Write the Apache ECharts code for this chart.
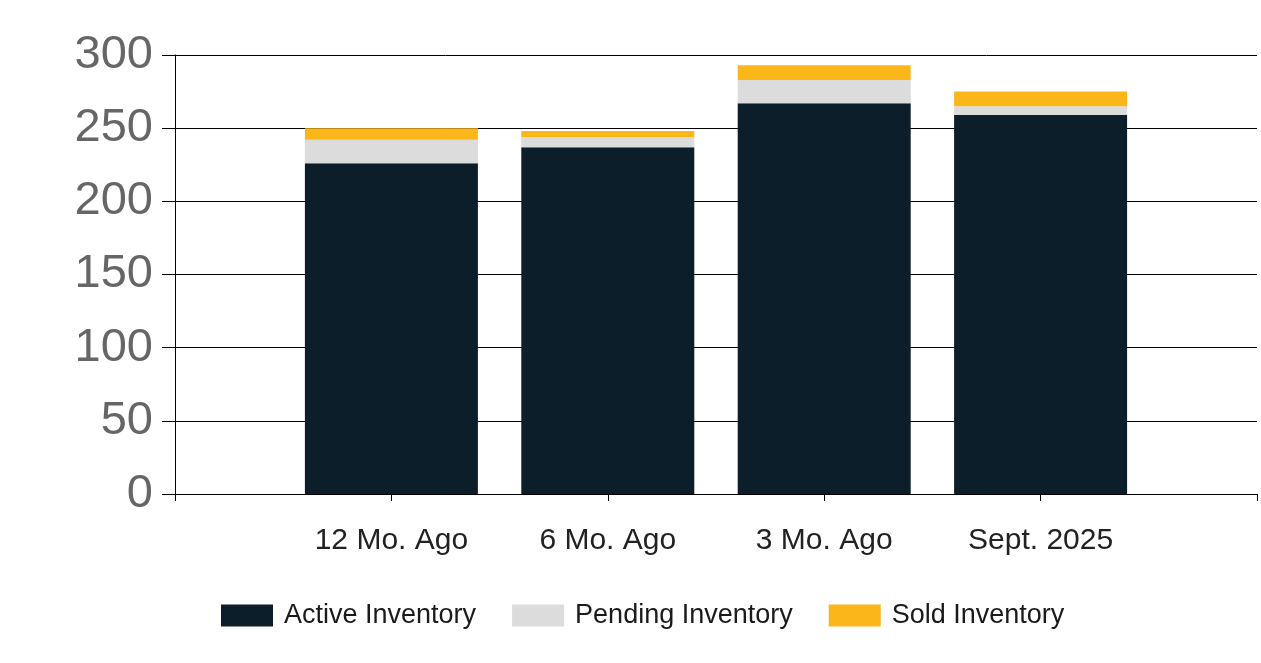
<!DOCTYPE html>
<html>
<head>
<meta charset="utf-8">
<script src="https://cdn.jsdelivr.net/npm/echarts@6/dist/echarts.min.js"></script>
<style>
html,body{margin:0;padding:0;background:#fff;}
#chart{width:1261px;height:663px;}
</style>
</head>
<body>
<div id="chart"></div>
<script>
// Category slots: empty slots at both ends as in the reference axis
const categories = ['', '12 Mo. Ago', '6 Mo. Ago', '3 Mo. Ago', 'Sept. 2025', ''];
const activeValues = [null, 226, 237, 267, 259, null];
const pendingValues = [null, 16, 7, 16, 6, null];
const soldValues = [null, 8, 4, 10, 10, null];
const seriesNames = ['Active Inventory', 'Pending Inventory', 'Sold Inventory'];

const font = '"Liberation Sans", Arial, sans-serif';
const chart = echarts.init(document.getElementById('chart'));
const colors = ['#0c1e29', '#dcdcdc', '#fbb71a'];
const valuesList = [activeValues, pendingValues, soldValues];

chart.setOption({
  animation: false,
  color: colors,
  grid: { left: 175, right: 4, top: 55, bottom: 169, containLabel: false },
  legend: {
    data: seriesNames,
    left: 221, top: 602, padding: 0,
    itemWidth: 52, itemHeight: 22, itemGap: 36,
    icon: 'rect',
    textStyle: { fontFamily: font, fontSize: 27, color: '#1a1a1a', padding: [0, 0, 0, 6] }
  },
  xAxis: {
    type: 'category',
    data: categories,
    boundaryGap: false,
    axisLine: { show: true, lineStyle: { color: '#000', width: 1 } },
    axisTick: { show: true, length: 7, lineStyle: { color: '#000' } },
    axisLabel: { fontFamily: font, fontSize: 30, color: '#222', margin: 32, interval: 0 },
    splitLine: { show: false }
  },
  yAxis: {
    type: 'value',
    min: 0, max: 300, interval: 50,
    axisLine: { show: true, lineStyle: { color: '#000', width: 1 } },
    axisTick: { show: true, length: 13, lineStyle: { color: '#000' } },
    axisLabel: { fontFamily: font, fontSize: 47, color: '#666', margin: 22 },
    splitLine: { show: true, lineStyle: { color: '#000', width: 1 } }
  },
  series: seriesNames.map((n, i) => ({
    name: n,
    type: 'bar',
    stack: 'inv',
    barWidth: 173,
    data: valuesList[i],
    itemStyle: { color: colors[i] }
  }))
});
</script>
</body>
</html>
